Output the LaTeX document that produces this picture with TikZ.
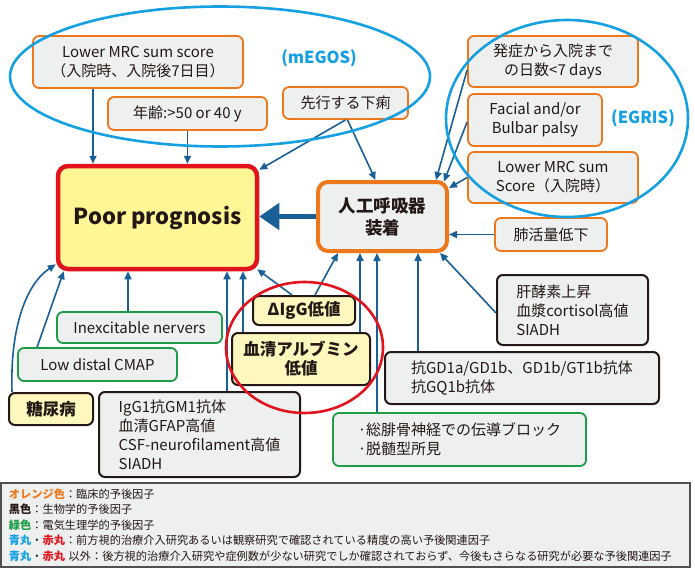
\documentclass[tikz,border=0pt]{standalone}
\usepackage{fontspec}
\setmainfont{Noto Sans CJK JP}
\usetikzlibrary{arrows.meta}
\definecolor{clinorange}{RGB}{237,120,28}
\definecolor{elecgreen}{RGB}{30,155,70}
\definecolor{ringblue}{RGB}{20,160,225}
\definecolor{alertred}{RGB}{225,20,30}
\definecolor{arrowblue}{RGB}{26,95,150}
\definecolor{boxgray}{RGB}{238,239,239}
\definecolor{pooryellow}{RGB}{255,246,150}
\definecolor{lowyellow}{RGB}{255,248,190}
\definecolor{textblack}{RGB}{35,24,21}
\definecolor{legendgray}{RGB}{80,80,80}
\tikzset{dims/.style 2 args={minimum width=#1,minimum height=#2}}

\begin{document}
\begin{tikzpicture}[x=1pt,y=-1pt,
		box/.style={draw,rounded corners=6pt,fill=boxgray,line width=1.8pt,inner sep=2pt,align=center,text=textblack,font=\fontsize{15}{19}\selectfont},
		clin/.style={box,draw=clinorange},
		bio/.style={box,draw=textblack,line width=2pt,align=left},
		elec/.style={box,draw=elecgreen},
		yellowbox/.style={box,draw=textblack,fill=lowyellow,line width=2pt,font=\bfseries\fontsize{16.5}{19}\selectfont},
		arr/.style={draw=arrowblue,line width=1.6pt,-{Triangle[length=8pt,width=7pt]}},
		bigarr/.style={draw=arrowblue,line width=5pt,-{Triangle[length=20pt,width=26pt]}},
		ring/.style={line width=2.6pt},
		ringlabel/.style={text=ringblue,font=\bfseries\fontsize{16.5}{19}\selectfont}
		]
		\path[use as bounding box,fill=white] (0,0) rectangle (695,570);
		
		\node[clin,dims={210pt}{52pt}] (mrc) at (138,62) {Lower MRC sum score\\（入院時、入院後7日目）};
		\node[clin,dims={159pt}{33pt}] (age) at (187.5,113.5) {年齢:>50 or 40 y};
		\node[clin,dims={125pt}{32pt}] (diarrhea) at (345.5,103) {先行する下痢};
		\node[draw=alertred,fill=pooryellow,line width=4.5pt,rounded corners=10pt,dims={199pt}{103pt},text=textblack,font=\bfseries\fontsize{22}{26}\selectfont] (poor) at (157.5,217.5) {Poor prognosis};
		\node[clin,line width=4pt,rounded corners=10pt,dims={129pt}{69pt},font=\bfseries\fontsize{17.5}{22}\selectfont] (vent) at (382.5,216.5) {人工呼吸器\\装着};
		\node[clin,dims={170pt}{51pt}] (onset) at (553,61.5) {発症から入院まで\\の日数<7 days};
		\node[clin,dims={134pt}{52pt}] (facial) at (535,120) {Facial and/or\\Bulbar palsy};
		\node[clin,dims={170pt}{51pt}] (mrcadm) at (553,177.5) {Lower MRC sum\\Score（入院時）};
		\node[clin,dims={112pt}{33pt}] (vc) at (551,234.5) {肺活量低下};
		\node[yellowbox,dims={102pt}{29pt}] (digg) at (304,310.5) {ΔIgG低値};
		\node[yellowbox,dims={138pt}{52pt}] (alb) at (301,359) {血清アルブミン\\低値};
		\node[elec,dims={165pt}{31pt}] (inex) at (139.5,327.5) {Inexcitable nervers};
		\node[elec,dims={159pt}{33pt}] (cmap) at (97.5,364.5) {Low distal CMAP};
		\node[yellowbox,dims={84pt}{32pt}] (dm) at (51,409) {糖尿病};
		\node[bio,dims={201pt}{85pt}] (gm1) at (199.5,434.5) {IgG1抗GM1抗体\\血清GFAP高値\\CSF-neurofilament高値\\SIADH};
		\node[bio,dims={151pt}{70pt}] (liver) at (572.5,310) {肝酵素上昇\\血漿cortisol高値\\SIADH};
		\node[bio,dims={274pt}{52pt}] (gd1a) at (522,378) {抗GD1a/GD1b、GD1b/GT1b抗体\\抗GQ1b抗体};
		\node[elec,align=left,dims={253pt}{53pt}] (block) at (459.5,439.5) {·総腓骨神経での伝導ブロック\\·脱髄型所見};
		
		% arrows into Poor prognosis
		\draw[arr] ([xshift=-45pt]mrc.south) -- ([xshift=-45pt]mrc.south |- poor.north);
		\draw[arr] (age.south) -- (age.south |- poor.north);
		\draw[arr] (diarrhea.south) -- ([yshift=-6pt]poor.north east);
		\foreach \src/\dx in {inex/-11.5,gm1/27.5,alb/-58} {
			\draw[arr] ([xshift=\dx pt]\src.north) -- ([xshift=\dx pt]\src.north |- poor.south);
		}
		\draw[arr] ([xshift=20pt]cmap.north west) -- ([xshift=8pt]poor.south west);
		\draw[arr] ([xshift=4pt]dm.north west) .. controls (10,330) and (25,285) .. ([yshift=7pt]poor.south west);
		\draw[arr] ([xshift=-12pt]digg.north) -- ([xshift=-2pt,yshift=2pt]poor.south east);
		\draw[bigarr] (vent.west) -- (vent.west -| poor.east);
		
		% arrows into 人工呼吸器装着
		\draw[arr] ([xshift=2pt]diarrhea.south) -- ([xshift=-7pt]vent.north);
		\draw[arr] ([yshift=-8.5pt]onset.west) -- ([xshift=-13pt]vent.north east);
		\draw[arr] ([yshift=-2pt]facial.west) -- ([xshift=-5pt,yshift=-1.5pt]vent.north east);
		\draw[arr] (mrcadm.west) -- ([yshift=-8pt]vent.north east);
		\draw[arr] (vc.west) -- (vc.west -| vent.east);
		\draw[arr] ([xshift=11pt]digg.north) -- ([xshift=-44.5pt]vent.south);
		\foreach \src/\dx in {alb/59,block/-82.5,gd1a/-104} {
			\draw[arr] ([xshift=\dx pt]\src.north) -- ([xshift=\dx pt]\src.north |- vent.south);
		}
		\draw[arr] ([yshift=-3pt]liver.west) -- ([xshift=-9pt]vent.south east);
		
		% score rings
		\draw[ring,ringblue] (220,76.5) ellipse [x radius=210pt,y radius=70pt];
		\node[ringlabel] (megos) at (319,58) {(mEGOS)};
		\draw[ring,ringblue] (567,118.5) ellipse [x radius=121pt,y radius=98.5pt];
		\node[ringlabel] (egris) at (643,118) {(EGRIS)};
		\draw[ring,alertred] (304.5,347.5) ellipse [x radius=78.5pt,y radius=65.5pt];
		
		\node[draw=legendgray,fill=boxgray,line width=1.5pt,minimum width=689pt,minimum height=84pt,text width=673pt,inner xsep=8pt,align=left,text=textblack,font=\fontsize{11.2}{15.6}\selectfont] (legend) at (345.5,525) {%
			{\color{clinorange}\bfseries オレンジ色}：臨床的予後因子\\
			{\bfseries 黒色}：生物学的予後因子\\
			{\color{elecgreen}\bfseries 緑色}：電気生理学的予後因子\\
			{\color{ringblue}\bfseries 青丸}・{\color{alertred}\bfseries 赤丸}：前方視的治療介入研究あるいは観察研究で確認されている精度の高い予後関連因子\\
			{\color{ringblue}\bfseries 青丸}・{\color{alertred}\bfseries 赤丸} 以外：後方視的治療介入研究や症例数が少ない研究でしか確認されておらず、今後もさらなる研究が必要な予後関連因子};
	\end{tikzpicture}
\end{document}
